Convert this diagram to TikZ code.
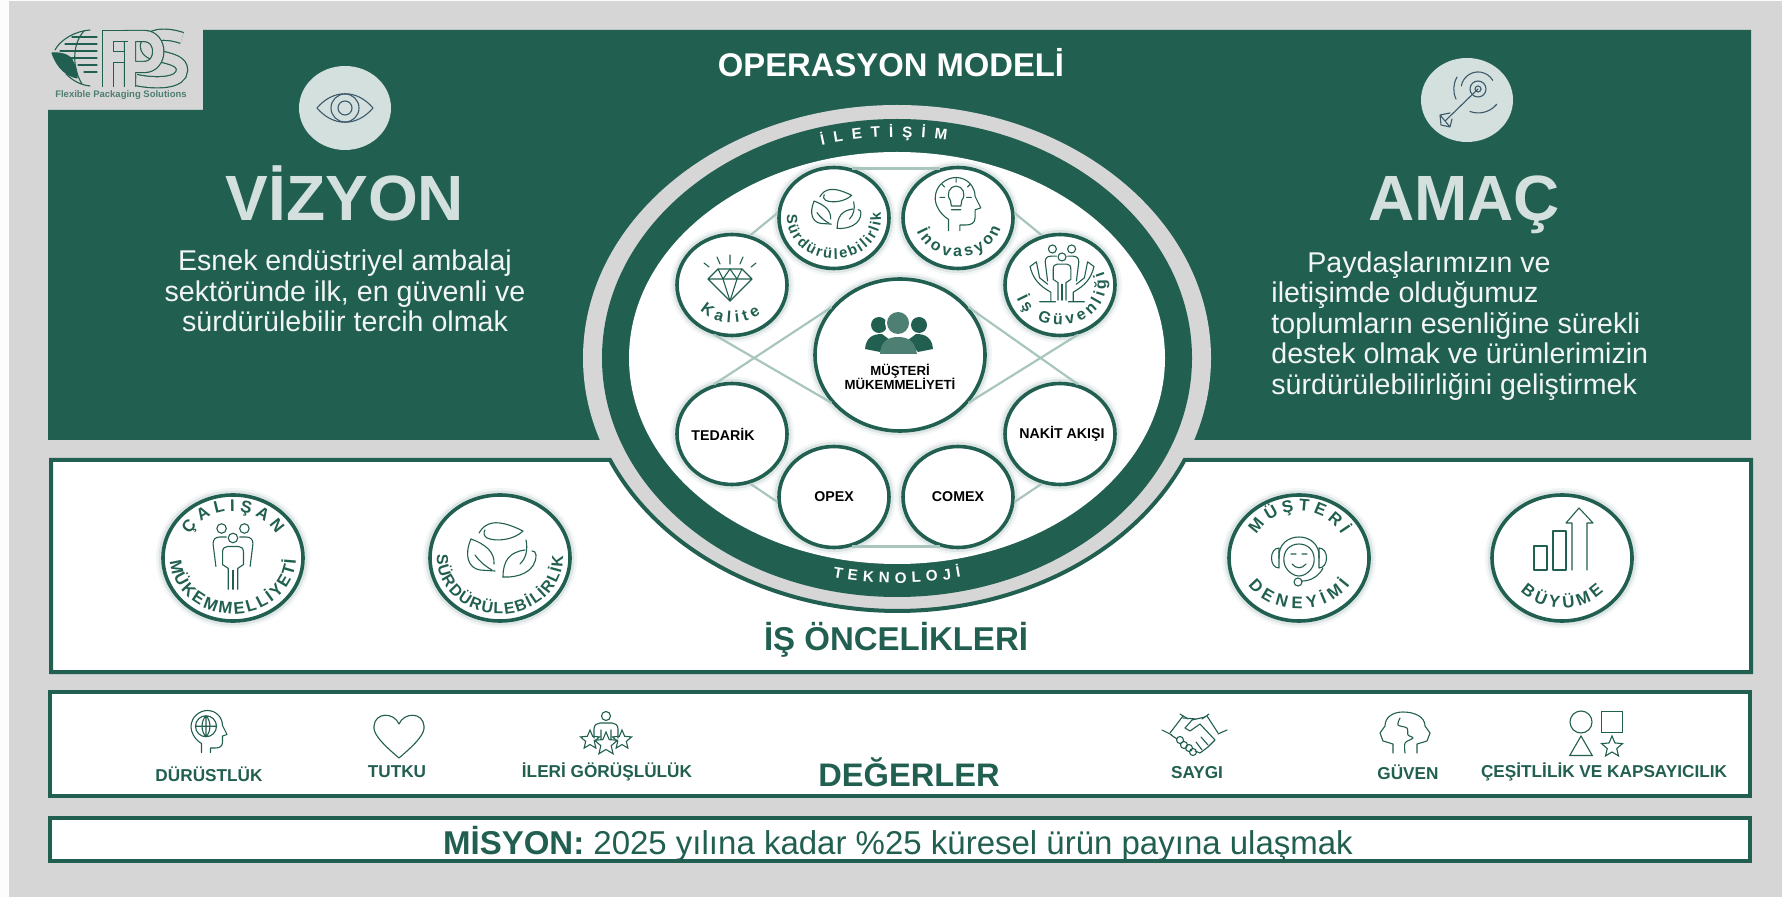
\documentclass[tikz,border=0pt]{standalone}
\usepackage{fontspec}
\setmainfont{Liberation Sans}
\usetikzlibrary{shapes.geometric,decorations.text}

\definecolor{panelgreen}{HTML}{215F50}
\definecolor{edgegreen}{HTML}{A9C6BE}
\definecolor{pagegray}{HTML}{D6D6D6}
\definecolor{palegreen}{HTML}{D3E0DE}
\definecolor{softwhite}{HTML}{F1F5F4}
\definecolor{inkblue}{HTML}{3C5A6B}

\tikzset{
    glow/.style={preaction={draw=panelgreen, opacity=.05, line width=7pt}, preaction={draw=panelgreen, opacity=.10, line width=4.5pt}},
    bnode/.style={ellipse, draw=panelgreen, fill=white, line width=1.8pt, inner sep=0pt, minimum width=55pt, minimum height=50.5pt, glow},
    cnode/.style={bnode, minimum width=85pt, minimum height=76pt},
    badge/.style={bnode, minimum width=70pt, minimum height=63pt},
    oval/.style={ellipse, inner sep=0pt},
    panel/.style={draw=panelgreen, fill=white, line width=2pt},
    ttl/.style={font=\bfseries\fontsize{32}{34}\selectfont, text=palegreen, anchor=base},
    body/.style={font=\fontsize{14.3}{15.3}\selectfont, text=softwhite, inner sep=0pt},
    hdr/.style={font=\bfseries\fontsize{16.5}{19}\selectfont, text=panelgreen},
    blab/.style={font=\bfseries\fontsize{7.1}{8}\selectfont, text=black},
    vlab/.style={font=\bfseries\fontsize{8.6}{10}\selectfont, text=panelgreen},
    line/.style={draw=panelgreen, line width=.55pt, line cap=round, line join=round},
    bluel/.style={draw=inkblue, line width=.55pt, line cap=round, line join=round},
    link/.style={draw=edgegreen, line width=1.1pt},
    shapeicon/.style={draw=panelgreen, line width=.55pt, inner sep=0pt},
    logoline/.style={draw=panelgreen, line width=.6pt, double=pagegray, double distance=5pt},
}

% text on part of an ellipse: cx, cy, rx, ry, from, to, font and text
\newcommand{\curvedtext}[7]{%
    \path[decorate, decoration={text along path, text align={fit to path}, text={#7}}]
    ({#1+#3*cos(#5)},{#2-#4*sin(#5)}) arc[start angle=#5, end angle=#6, x radius=#3*0.5pt, y radius=#4*0.5pt];
}
\newcommand{\gfont}{\color{panelgreen}\bfseries\fontsize{7.4}{8}\selectfont}
\newcommand{\hfont}{\color{panelgreen}\bfseries\fontsize{8}{8}\selectfont}
\newcommand{\bfont}{\color{panelgreen}\bfseries\fontsize{8.4}{8}\selectfont}
\newcommand{\wfont}{\color{white}\bfseries\fontsize{7.6}{8}\selectfont}

\newcommand{\leafring}[3]{%
    \begin{scope}[shift={(#1,#2)}, scale=#3]
        \draw[line] (-21,-17) .. controls (-15,-27) and (-5,-33) .. (23,-19) .. controls (14,-10) and (-4,-8) .. (-13,-12) .. controls (-16,-14) and (-17,-17) .. (-15,-20);
        \draw[line] (-29,-11) .. controls (-36,5) and (-32,18) .. (-20,20) -- (-5,21);
        \draw[line] (-29,-11) .. controls (-15,-6) and (-5,2) .. (-6,14);
        \draw[line] (-25,5) .. controls (-20,12) and (-15,16) .. (-8,20);
        \draw[line] (3,27) .. controls (3,10) and (10,2) .. (25,0);
        \draw[line] (3,27) .. controls (18,28) and (36,22) .. (36,5) .. controls (36,2) and (34,1) .. (32,1);
        \draw[line] (26,-10) .. controls (28,0) and (26,8) .. (20,14);
    \end{scope}
}
\newcommand{\headline}{%
    \draw[line] (-10,26) -- (-10,14) .. controls (-20,8) and (-24,-2) .. (-24,-8) .. controls (-24,-22) and (-12,-30) .. (-2,-30) .. controls (10,-30) and (18,-20) .. (18,-10) -- (24,2) -- (18,4) -- (18,12) .. controls (18,18) and (14,20) .. (8,20) -- (2,20) -- (2,26);
}
\newcommand{\crew}{%
    \draw[line] (-12,-30) circle (5) (12,-30) circle (5) (0,-20) circle (5);
    \draw[line] (-18,10) -- (-21,-14) .. controls (-21,-19) and (-18,-21) .. (-14,-21) -- (-7,-21);
    \draw[line] (18,10) -- (21,-14) .. controls (21,-19) and (18,-21) .. (14,-21) -- (7,-21);
    \draw[line] (-5,34) -- (-5,12) -- (-11,8) -- (-11,-5) .. controls (-11,-9) and (-9,-11) .. (-6,-11) -- (6,-11) .. controls (9,-11) and (11,-9) .. (11,-5) -- (11,8) -- (5,12) -- (5,34);
    \draw[line] (0,14) -- (0,34);
}

\begin{document}
\begin{tikzpicture}[x=0.5pt, y=-0.5pt]
    \useasboundingbox (0,0) rectangle (1782,897);
    \fill[white!92!pagegray] (0,0) rectangle (1782,897);
    \fill[pagegray] (9,1) rectangle (1782,897);

    % panels
    \fill[panelgreen] (48,110) -- (203,110) -- (203,30) -- (1751,30) -- (1751,440) -- (48,440) -- cycle;
    \node[oval, fill=pagegray, minimum width=314pt, minimum height=253pt] (outer) at (897,358) {};
    \draw[panel] (51,460) -- (610,460) arc[start angle=203.8, end angle=336.2, x radius=157pt, y radius=126.5pt] -- (1751,460) -- (1751,672) -- (51,672) -- cycle;
    \node[oval, fill=panelgreen, minimum width=295pt, minimum height=239pt] (band) at (897,358) {};
    \node[oval, fill=white, minimum width=268pt, minimum height=206pt] (inner) at (897,358) {};
    \draw[panel] (50,692) rectangle (1750,796);
    \draw[panel] (50,818) rectangle (1750,861);

    % logo
    \draw[line] (90,30) .. controls (75,31) and (60,40) .. (55,50) (90,86) .. controls (80,85) and (72,80) .. (66,74);
    \foreach \yy/\xa in {37/72,44/65,51/60,58/66,65/78,72/84} {
        \draw[line] (\xa,\yy) -- (97,\yy);
    }
    \draw[line] (84,31) .. controls (72,44) and (72,68) .. (82,84);
    \draw[line, fill=panelgreen] (52,53) .. controls (62,52) and (72,56) .. (73,62) .. controls (77,68) and (77,74) .. (77,78) .. controls (68,76) and (58,70) .. (52,53);
    \draw[logoline] (182,38) .. controls (165,32) and (146,34) .. (146,46) .. controls (146,60) and (182,54) .. (182,70) .. controls (182,84) and (155,84) .. (136,80);
    \draw[logoline] (130,87) -- (130,36) -- (144,36) .. controls (163,36) and (163,67) .. (144,67) -- (132,67);
    \draw[logoline] (108,87) -- (108,36) -- (128,36) (108,57) -- (124,57);
    \node[font=\bfseries\fontsize{4.75}{6}\selectfont, text=panelgreen!75!pagegray] (tagline) at (121,95) {Flexible Packaging Solutions};

    % top texts
    \node[font=\bfseries\fontsize{16.4}{18}\selectfont, text=white] (modeltitle) at (891,63) {OPERASYON MODELİ};
    \node[oval, fill=palegreen, minimum width=46pt, minimum height=42pt] (eyecirc) at (345,108) {};
    \node[oval, fill=palegreen, minimum width=46pt, minimum height=42pt] (aimcirc) at (1467,100) {};
    \node[ttl] (vision) at (345,221) {VİZYON};
    \node[ttl] (purpose) at (1464,221) {AMAÇ};
    \node[body, align=center] (visiontext) at (345,291) {Esnek endüstriyel ambalaj\\sektöründe ilk, en güvenli ve\\sürdürülebilir tercih olmak};
    \node[body, align=left, anchor=west] (purposetext) at (1271,326) {\hspace*{18pt}Paydaşlarımızın ve\\iletişimde olduğumuz\\toplumların esenliğine sürekli\\destek olmak ve ürünlerimizin\\sürdürülebilirliğini geliştirmek};

    % eye
    \begin{scope}[shift={(345,108)}]
        \draw[bluel] (-28,0) .. controls (-12,-19) and (12,-19) .. (28,0) .. controls (12,19) and (-12,19) .. (-28,0);
        \draw[bluel] (0,0) circle (14) (0,0) circle (7);
    \end{scope}
    % target
    \begin{scope}[shift={(1478,89)}]
        \draw[bluel] (0,0) circle (3) (0,0) circle (8);
        \draw[bluel] (-16.7,-3) arc[start angle=170, end angle=30, radius=8.5pt];
        \draw[bluel] (-21,-12) arc[start angle=150, end angle=205, radius=12pt];
        \draw[bluel] (-8,22.5) arc[start angle=250, end angle=320, radius=12pt];
        \draw[bluel] (0,0) -- (-33,32) (-28,24) -- (-38,26) -- (-37,36) -- (-28,38) -- (-26,30) (-38,26) -- (-28,38);
    \end{scope}

    % ring
    \curvedtext{897}{358}{280}{221}{105.6}{79.8}{|\wfont|İLETİŞİM}
    \curvedtext{897}{358}{285}{225}{257}{283}{|\wfont|TEKNOLOJİ}

    \node[bnode] (quality) at (732,285) {};
    \node[bnode] (sustain) at (834,218) {};
    \node[bnode] (innov) at (958,218) {};
    \node[bnode] (safety) at (1060,285) {};
    \node[bnode] (supply) at (732,434) {};
    \node[bnode] (opex) at (834,497) {};
    \node[bnode] (comex) at (958,497) {};
    \node[bnode] (cash) at (1060,434) {};
    \node[cnode] (customer) at (900,355) {};

    \draw[link] (quality.70) -- (sustain.175);
    \draw[link] (sustain.70) -- (innov.110);
    \draw[link] (innov.5) -- (safety.110);
    \draw[link] (quality.-110) -- (customer.215);
    \draw[link] (supply.110) -- (customer.145);
    \draw[link] (safety.-70) -- (customer.-35);
    \draw[link] (cash.70) -- (customer.35);
    \draw[link] (supply.-70) -- (opex.185);
    \draw[link] (opex.-70) -- (comex.-110);
    \draw[link] (comex.-5) -- (cash.-110);

    \node[blab, xshift=-4.5] (supplylab) at (supply) {TEDARİK};
    \node[blab] (opexlab) at (opex) {OPEX};
    \node[blab] (comexlab) at (comex) {COMEX};
    \node[blab, xshift=1] (cashlab) at (cash) {NAKİT AKIŞI};
    \node[font=\bfseries\fontsize{6.6}{7.4}\selectfont, align=center] (customerlab) at (900,377) {MÜŞTERİ\\MÜKEMMELİYETİ};

    \curvedtext{732}{285}{43}{38}{222}{312}{|\hfont|Kalite}
    \curvedtext{834}{218}{47}{41}{175}{368}{|\gfont|Sürdürülebilirlik}
    \curvedtext{958}{218}{44}{39}{200}{345}{|\hfont|İnovasyon}
    \curvedtext{1060}{285}{46}{40}{200}{380}{|\hfont|İş Güvenliği}

    % people
    \fill[panelgreen] (879,325) circle (8) (919,325) circle (8);
    \fill[panelgreen] (865,349) .. controls (866,338) and (872,334) .. (882,334) -- (890,340) -- (880,352) -- cycle;
    \fill[panelgreen] (933,349) .. controls (932,338) and (926,334) .. (916,334) -- (908,340) -- (918,352) -- cycle;
    \fill[white] (898,323) circle (13);
    \fill[panelgreen!80!white] (898,323) circle (11);
    \fill[panelgreen!80!white] (880,354) .. controls (881,341) and (888,337) .. (898,337) .. controls (908,337) and (915,341) .. (917,354) -- cycle;

    % diamond
    \begin{scope}[shift={(730,285)}]
        \draw[line] (-22,-6) -- (-12,-16) -- (12,-16) -- (22,-6) -- (0,16) -- cycle (-22,-6) -- (22,-6);
        \draw[line] (-12,-16) -- (-7,-6) -- (0,16) -- (7,-6) -- (12,-16) (-7,-6) -- (0,-16) -- (7,-6);
        \draw[line] (0,-30) -- (0,-21) (-13,-28) -- (-10,-21) (13,-28) -- (10,-21) (-26,-22) -- (-21,-18) (26,-22) -- (21,-18);
    \end{scope}
    \leafring{835}{209}{.72}
    % head with bulb
    \begin{scope}[shift={(958,206)}, scale=.95]
        \headline
        \draw[line] (-8,-6) .. controls (-13,-12) and (-9,-21) .. (-2,-21) .. controls (5,-21) and (9,-12) .. (4,-6) -- (3,0) -- (-7,0) -- cycle;
        \draw[line] (-7,4) -- (3,4) (-2,-25) -- (-2,-29) (-14,-20) -- (-17,-23) (10,-20) -- (13,-23) (-14,-9) -- (-19,-9) (9,-9) -- (14,-9);
    \end{scope}
    % hands and crew
    \begin{scope}[shift={(1062,273)}, scale=.8]
        \crew
        \draw[line] (-40,-8) .. controls (-36,8) and (-28,16) .. (-14,24) -- (-14,36) (-40,-8) -- (-32,-14) -- (-28,6) -- (-18,14) (-28,36) -- (-8,36);
        \draw[line] (40,-8) .. controls (36,8) and (28,16) .. (14,24) -- (14,36) (40,-8) -- (32,-14) -- (28,6) -- (18,14) (28,36) -- (8,36);
    \end{scope}

    % priorities
    \node[badge] (staff) at (233,558) {};
    \node[badge] (green) at (500,558) {};
    \node[badge] (cxp) at (1299,558) {};
    \node[badge] (growth) at (1562,558) {};
    \node[hdr] (prioritytitle) at (896,640) {İŞ ÖNCELİKLERİ};

    \curvedtext{233}{558}{50}{47}{150}{30}{|\bfont|ÇALIŞAN}
    \curvedtext{233}{558}{63}{56}{183}{358}{|\bfont|MÜKEMMELLİYETİ}
    \curvedtext{500}{558}{63}{56}{176}{362}{|\hfont|SÜRDÜRÜLEBİLİRLİK}
    \curvedtext{1299}{558}{49}{47}{150}{30}{|\bfont|MÜŞTERİ}
    \curvedtext{1299}{558}{60}{51}{212}{328}{|\bfont|DENEYİMİ}
    \curvedtext{1562}{558}{56}{50}{222}{318}{|\bfont|BÜYÜME}

    \begin{scope}[shift={(233,557)}, scale=.95]
        \crew
    \end{scope}
    \leafring{500}{550}{1}
    % headset
    \begin{scope}[shift={(1299,556)}]
        \draw[line] (-20,2) .. controls (-22,-26) and (22,-26) .. (20,2);
        \draw[line] (-15,6) .. controls (-18,-18) and (18,-18) .. (15,6) .. controls (14,14) and (6,20) .. (0,20) .. controls (-6,20) and (-14,14) .. (-15,6);
        \draw[line] (-20,-8) .. controls (-30,-8) and (-30,12) .. (-20,12) -- cycle (20,-8) .. controls (30,-8) and (30,12) .. (20,12) -- cycle;
        \draw[line] (-8,-2) -- (-3,-2) (3,-2) -- (8,-2) (-7,8) .. controls (-3,13) and (3,13) .. (7,8);
        \draw[line] (-1,26) circle (4) (3,25) .. controls (12,25) and (20,20) .. (24,12);
    \end{scope}
    % bars
    \begin{scope}[shift={(1563,553)}]
        \draw[line] (-16,17) -- (-29,17) -- (-29,-7) -- (-16,-7) -- (-16,17);
        \draw[line] (-10,17) -- (-10,-22) -- (3,-22) -- (3,17) -- (-10,17);
        \draw[line] (9,17) -- (9,-30) -- (3,-30) -- (16,-45) -- (30,-30) -- (24,-30) -- (24,17);
    \end{scope}

    % values
    \node[vlab] (honesty) at (209,774) {DÜRÜSTLÜK};
    \node[vlab] (passion) at (397,772) {TUTKU};
    \node[vlab] (vision2) at (607,772) {İLERİ GÖRÜŞLÜLÜK};
    \node[hdr, font=\bfseries\fontsize{16.3}{19}\selectfont] (valuetitle) at (909,772) {DEĞERLER};
    \node[vlab] (respect) at (1197,773) {SAYGI};
    \node[vlab] (trust) at (1408,772) {GÜVEN};
    \node[vlab] (diverse) at (1604,772) {ÇEŞİTLİLİK VE KAPSAYICILIK};

    \begin{scope}[shift={(209,733)}, scale=.75]
        \headline
        \draw[line] (-4,-9) circle (14) (-4,-23) .. controls (-11,-16) and (-11,-2) .. (-4,5) (-4,-23) .. controls (3,-16) and (3,-2) .. (-4,5) (-4,-23) -- (-4,5) (-18,-9) -- (10,-9);
    \end{scope}
    \draw[line] (399,758) .. controls (380,742) and (373,733) .. (374,726) .. controls (375,712) and (394,712) .. (399,724) .. controls (404,712) and (423,712) .. (424,726) .. controls (425,733) and (418,742) .. (399,758);
    % person on stars
    \draw[line] (606,716) circle (4.5);
    \draw[line] (594,738) -- (594,729) .. controls (594,725) and (597,723) .. (600,723) -- (612,723) .. controls (615,723) and (618,725) .. (618,729) -- (618,738) (601,748) -- (601,730) (611,748) -- (611,730) (606,740) -- (606,748);
    \node[star, star points=5, star point ratio=2.2, shapeicon, fill=white, minimum size=12pt] (star2) at (606,744) {};
    \node[star, star points=5, star point ratio=2.2, shapeicon, minimum size=10pt] (star1) at (590,740) {};
    \node[star, star points=5, star point ratio=2.2, shapeicon, minimum size=10pt] (star3) at (622,740) {};
    % handshake
    \begin{scope}[shift={(1195,733)}]
        \draw[line] (-25,0) -- (-12,-17) (23,0) -- (12,-17);
        \draw[line] (-33,-3) -- (-23,2) (-15,-19) -- (-7,-14) (32,-3) -- (23,1) (14,-19) -- (7,-14);
        \draw[line] (-12,-15) -- (2,-14) (10,-16) -- (-3,-13) -- (-10,-5) -- (-5,-2) -- (5,-9) -- (20,7) -- (13,14) -- (5,20) -- (0,18);
        \draw[line] (-24,2) -- (-18,6);
        \draw[line] (-15,7) circle (3.5) (-11,12) circle (3.5) (-6,15) circle (3.5) (-2,19) circle (3.5);
        \draw[line] (6,4) -- (13,12) (1,9) -- (7,17);
    \end{scope}
    % split head
    \begin{scope}[shift={(1405,733)}]
        \draw[line] (-12,20) -- (-12,11) -- (-22,8) -- (-25,0) -- (-20,-7) .. controls (-20,-16) and (-12,-21) .. (-2,-21) .. controls (10,-21) and (20,-16) .. (20,-7) -- (25,0) -- (22,8) -- (12,11) -- (12,20);
        \draw[line] plot[smooth] coordinates {(-5,-15) (-7,-8) (2,-5) (3,2) (8,5) (0,10) (0,20)};
    \end{scope}
    % shapes
    \node[circle, shapeicon, minimum size=11pt] (shapecirc) at (1581,722) {};
    \node[rectangle, shapeicon, minimum size=10.5pt] (shapesq) at (1612,722) {};
    \node[regular polygon, regular polygon sides=3, shapeicon, minimum size=13pt] (shapetri) at (1581,749) {};
    \node[star, star points=5, star point ratio=2.2, shapeicon, minimum size=11pt] (shapestar) at (1612,747) {};

    % mission
    \node[font=\fontsize{16.5}{19}\selectfont, text=panelgreen] (mission) at (898,844) {\textbf{MİSYON:} 2025 yılına kadar \%25 küresel ürün payına ulaşmak};
\end{tikzpicture}
\end{document}
